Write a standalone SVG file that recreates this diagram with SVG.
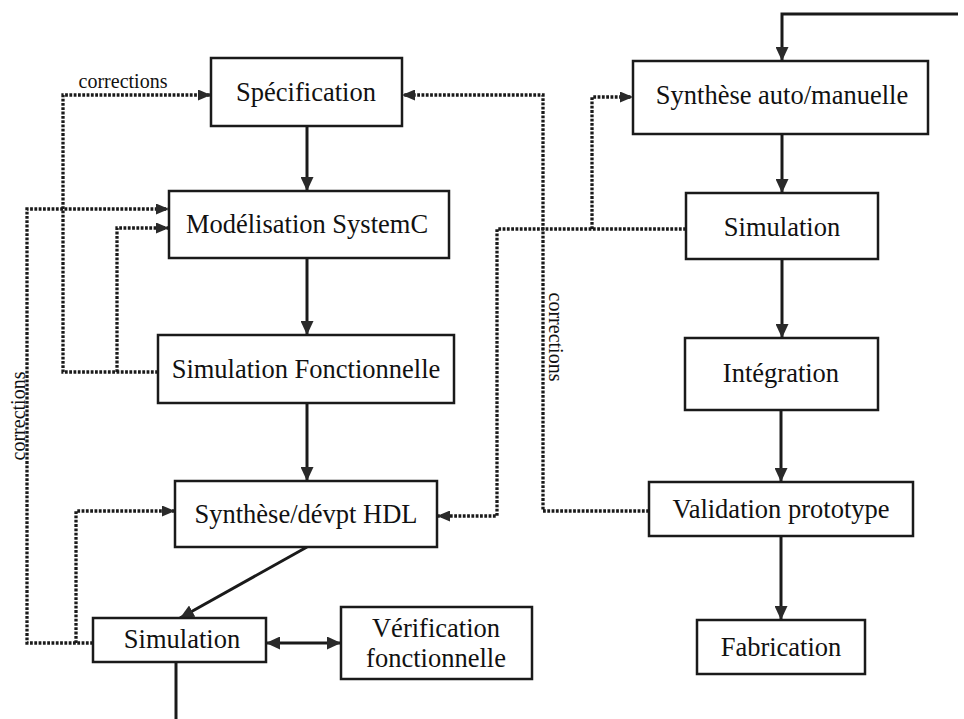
<svg xmlns="http://www.w3.org/2000/svg" width="964" height="719" viewBox="0 0 964 719">
  <style>
    .box { fill: #fff; stroke: #1a1a1a; stroke-width: 2.5; }
    .lbl { font-family: "Liberation Serif", "Times New Roman", serif; font-size: 26.5px; fill: #111; text-anchor: middle; }
    .note { font-family: "Liberation Serif", "Times New Roman", serif; font-size: 20px; fill: #111; text-anchor: middle; }
    .flow { fill: none; stroke: #1a1a1a; stroke-width: 3; }
    .fb { fill: none; stroke: #1a1a1a; stroke-width: 3.3; stroke-dasharray: 2.8 1.5; }
  </style>
  <defs>
    <marker id="ah" markerUnits="userSpaceOnUse" markerWidth="14" markerHeight="13" refX="14" refY="6.5" orient="auto-start-reverse">
      <path d="M0,0 L14,6.5 L0,13 Z" fill="#2a2a2a" stroke="none"/>
    </marker>
    <marker id="ahs" markerUnits="userSpaceOnUse" markerWidth="13" markerHeight="11" refX="13" refY="5.5" orient="auto">
      <path d="M0,0 L13,5.5 L0,11 Z" fill="#2a2a2a" stroke="none"/>
    </marker>
  </defs>
  <rect width="964" height="719" fill="#fff"/>

  <!-- connectors -->
  <g id="connectors">
    <!-- main flow, left column -->
    <line class="flow" x1="307" y1="126" x2="307" y2="191" marker-end="url(#ah)"/>
    <line class="flow" x1="307" y1="258" x2="307" y2="335" marker-end="url(#ah)"/>
    <line class="flow" x1="307" y1="403" x2="307" y2="481" marker-end="url(#ah)"/>
    <line class="flow" x1="307" y1="547" x2="180" y2="618" marker-end="url(#ah)"/>
    <line class="flow" x1="266" y1="643" x2="341" y2="643" marker-start="url(#ah)" marker-end="url(#ah)"/>
    <line class="flow" x1="176" y1="662" x2="176" y2="719"/>

    <!-- main flow, right column -->
    <polyline class="flow" points="958,14 782,14 782,61" marker-end="url(#ah)"/>
    <line class="flow" x1="782" y1="134" x2="782" y2="193" marker-end="url(#ah)"/>
    <line class="flow" x1="782" y1="259" x2="782" y2="338" marker-end="url(#ah)"/>
    <line class="flow" x1="781" y1="410" x2="781" y2="482" marker-end="url(#ah)"/>
    <line class="flow" x1="781" y1="536" x2="781" y2="620" marker-end="url(#ah)"/>

    <!-- feedback loops -->
    <polyline class="fb" points="158,372 63,372 63,95 211,95" marker-end="url(#ahs)"/>
    <polyline class="fb" points="117,372 117,228 169,228" marker-end="url(#ahs)"/>
    <polyline class="fb" points="93,643 27,643 27,209 169,209" marker-end="url(#ahs)"/>
    <polyline class="fb" points="76,643 76,511 175,511" marker-end="url(#ahs)"/>
    <polyline class="fb" points="686,229 497,229 497,516 437,516" marker-end="url(#ahs)"/>
    <polyline class="fb" points="592,229 592,97 633,97" marker-end="url(#ahs)"/>
    <polyline class="fb" points="649,511 543,511 543,95 402,95" marker-end="url(#ahs)"/>

    <text class="note" x="123" y="88">corrections</text>
    <text class="note" transform="translate(25,416) rotate(-90)">corrections</text>
    <text class="note" transform="translate(549,337) rotate(90)">corrections</text>
  </g>

  <!-- nodes -->
  <g id="specification">
    <rect class="box" x="211" y="58" width="191" height="68"/>
    <text class="lbl" x="306" y="101">Spécification</text>
  </g>
  <g id="modelisation">
    <rect class="box" x="169" y="191" width="280" height="67"/>
    <text class="lbl" x="307" y="233">Modélisation SystemC</text>
  </g>
  <g id="simulation-fonctionnelle">
    <rect class="box" x="158" y="335" width="296" height="68"/>
    <text class="lbl" x="306" y="378">Simulation Fonctionnelle</text>
  </g>
  <g id="synthese-hdl">
    <rect class="box" x="175" y="481" width="262" height="66"/>
    <text class="lbl" x="306" y="523">Synthèse/dévpt HDL</text>
  </g>
  <g id="simulation-hdl">
    <rect class="box" x="93" y="618" width="173" height="44"/>
    <text class="lbl" x="182" y="648">Simulation</text>
  </g>
  <g id="verification">
    <rect class="box" x="341" y="607" width="191" height="72"/>
    <text class="lbl" x="436" y="637">Vérification</text>
    <text class="lbl" x="436" y="667">fonctionnelle</text>
  </g>
  <g id="synthese-auto">
    <rect class="box" x="633" y="61" width="295" height="73"/>
    <text class="lbl" x="782" y="104">Synthèse auto/manuelle</text>
  </g>
  <g id="simulation-proto">
    <rect class="box" x="686" y="193" width="192" height="66"/>
    <text class="lbl" x="782" y="236">Simulation</text>
  </g>
  <g id="integration">
    <rect class="box" x="685" y="338" width="193" height="72"/>
    <text class="lbl" x="781" y="382">Intégration</text>
  </g>
  <g id="validation">
    <rect class="box" x="649" y="482" width="264" height="54"/>
    <text class="lbl" x="781" y="518">Validation prototype</text>
  </g>
  <g id="fabrication">
    <rect class="box" x="697" y="620" width="168" height="54"/>
    <text class="lbl" x="781" y="656">Fabrication</text>
  </g>
</svg>
